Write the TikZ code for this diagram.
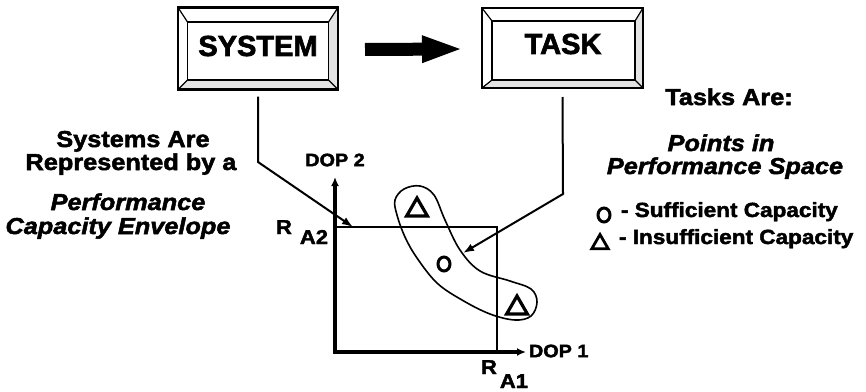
\documentclass[tikz,border=0pt]{standalone}
\usepackage{fontspec}
\setmainfont{Liberation Sans}[FakeStretch=1.1,
  BoldFeatures={FakeBold=2.2}, BoldItalicFeatures={FakeBold=2.2}]
\newfontfamily\boxfont{Liberation Sans}[BoldFeatures={FakeBold=2.2}]
\usetikzlibrary{arrows.meta,shapes.geometric,positioning,calc,backgrounds}

\begin{document}
\begin{tikzpicture}[
  x=1pt, y=-1pt,
  every node/.style={inner sep=0pt, outer sep=0pt},
  txt/.style={anchor=base, font=\bfseries\fontsize{23}{24}\selectfont},
  itxt/.style={anchor=base, font=\bfseries\itshape\fontsize{23}{24}\selectfont},
  legtxt/.style={anchor=base west, font=\bfseries\fontsize{20.5}{22}\selectfont},
  axlbl/.style={font=\bfseries\fontsize{18}{18}\selectfont},
  reflbl/.style={anchor=base west, font=\bfseries\fontsize{20}{20}\selectfont},
  boxlbl/.style={font=\boxfont\bfseries\fontsize{29}{30}\selectfont},
  frameout/.style={minimum width=160pt, minimum height=82pt},
  framein/.style={minimum width=141pt, minimum height=58pt},
  bevel/.style={fill=gray!22},
  envbox/.style={draw, line width=1.8pt, minimum width=162pt, minimum height=125pt},
  okpt/.style={ellipse, draw, line width=3pt, minimum width=12pt, minimum height=14pt},
  badpt/.style={regular polygon, regular polygon sides=3, draw, line width=3.2pt,
                minimum size=24pt},
  conn/.style={line width=2pt, -{Latex[length=11pt,width=8pt]}},
  axisline/.style={line width=3.4pt, {Latex[length=9pt,width=8pt]}-{Latex[length=9pt,width=8pt]}},
  bigarrow/.style={line width=13pt, -{Triangle[length=38pt,width=28pt,line width=0pt]}},
]
\useasboundingbox (0,0) rectangle (866,391);

%% Boxes (outer frame, inner face, label)
\node[frameout] (sysout) at (258,48.5) {};
\node[framein] (sysin) at (258,51) {};
\node[boxlbl] (sys) at (258,46) {SYSTEM};

\node[frameout, minimum width=161pt, minimum height=80pt] (taskout) at (562.5,48) {};
\node[framein, minimum width=143pt, minimum height=59pt] (taskin) at (563.5,50.5) {};
\node[boxlbl] (task) at (563,44) {TASK};

%% Bevels: shaded right and bottom, corner mitres
\begin{scope}[on background layer]
  \foreach \b in {sys, task}{
    \fill[bevel] (\b out.north east) -- (\b in.north east) -- (\b in.south east)
      -- (\b in.south west) -- (\b out.south west) -- (\b out.south east) -- cycle;
  }
\end{scope}
\foreach \b in {sys, task}{
  \draw[line width=2.4pt] (\b out.north west) rectangle (\b out.south east);
  \draw[line width=1.6pt] (\b in.north west) rectangle (\b in.south east);
  \foreach \c in {north west, north east, south west, south east}
    \draw[line width=1.2pt] (\b out.\c) -- (\b in.\c);
}

%% Fat arrow SYSTEM -> TASK
\draw[bigarrow] ([xshift=27pt, yshift=-1pt]sysout.east) -- ([xshift=-22pt, yshift=-1pt]taskout.west);

%% Left notes
\node[txt] (sys1) at (133,147) {Systems Are};
\node[txt] (sys2) at (131,170) {Represented by a};
\node[itxt] (env1) at (128,210) {Performance};
\node[itxt] (env2) at (118,234) {Capacity Envelope};

%% Right notes and legend
\node[txt] (tasks) at (729,105) {Tasks Are:};
\node[itxt] (pts1) at (721,151) {Points in};
\node[itxt] (pts2) at (725,174) {Performance Space};
\node[okpt] (legok) at (604,215) {};
\node[legtxt] (legoktxt) at (621,217) {- Sufficient Capacity};
\node[badpt, minimum size=19pt, line width=2.8pt] (legbad) at (600,244) {};
\node[legtxt] (legbadtxt) at (619,244) {- Insufficient Capacity};

%% Performance space
\node[envbox] (env) at (416,289.5) {};
\coordinate (orig) at (335,352);
\coordinate (ytip) at (335,177);
\coordinate (xtip) at (526,352);
\draw[axisline] (ytip) -- (orig) -- (xtip);
\node[axlbl] (dop2) at (335,160) {DOP 2};
\node[axlbl, anchor=west] (dop1) at (529,351) {DOP 1};
\node[reflbl] (ra2) at (276,234) {R\hspace{8pt}\raisebox{-10pt}{A2}};
\node[reflbl] (ra1) at (481,374) {R\hspace{3pt}\raisebox{-14pt}{A1}};

%% Task region and task points
\draw[line width=1.6pt] plot[smooth cycle, tension=0.6] coordinates {
  (397,215) (395,200) (404,189) (420,186) (434,195) (445,220) (460,250)
  (480,271) (510,281) (531,289) (537,302) (531,316) (515,320) (490,314)
  (462,300) (437,283) (417,258) (405,237)};
\node[badpt] (bad1) at (417,210) {};
\node[okpt] (ok1) at (444,264) {};
\node[badpt] (bad2) at (517,308) {};

%% Connectors
\coordinate (sysbend) at (258,162);
\coordinate (taskbend) at (563,194);
\draw[conn] ([yshift=-7pt]sysout.south) -- (sysbend) -- ([xshift=18pt]env.north west);
\draw[conn] ([yshift=-9pt]taskout.south) -- (taskbend) -- ([xshift=19pt, yshift=11pt]ok1.center);

\end{tikzpicture}
\end{document}
